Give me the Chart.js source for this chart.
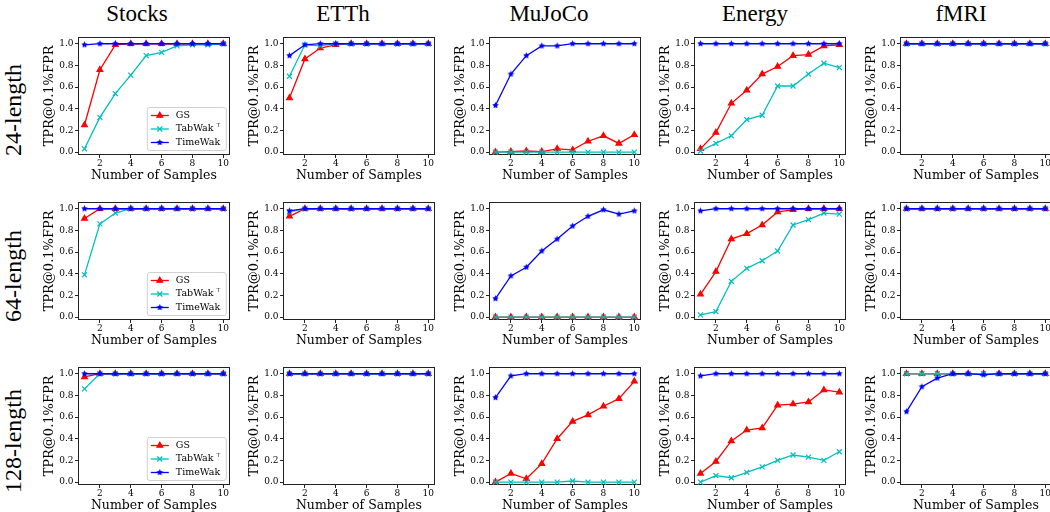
<!DOCTYPE html>
<html>
<head>
<meta charset="utf-8">
<script src="https://cdn.jsdelivr.net/npm/chart.js@4.4.0/dist/chart.umd.min.js"></script>
<style>
  html, body { margin: 0; padding: 0; background: #fff; }
  #fig { position: relative; width: 1050px; height: 512px; overflow: hidden; }
  #fig canvas { position: absolute; }
  .col-title { position: absolute; top: 2px; width: 160px; margin-left: -80px; text-align: center;
               font: 23px/23px "Liberation Serif", serif; color: #000; }
  .row-title { position: absolute; width: 160px; height: 26px; text-align: center; color: #000;
               font: 24px/26px "Liberation Serif", serif; transform: translate(-50%, -50%) rotate(-90deg); }
</style>
</head>
<body>
<div id="fig"></div>
<script>
// ---- data ----
const samples = [1, 2, 3, 4, 5, 6, 7, 8, 9, 10];
const datasetNames = ['Stocks', 'ETTh', 'MuJoCo', 'Energy', 'fMRI'];
const lengthNames = ['24-length', '64-length', '128-length'];
const seriesNames = ['GS', 'TabWak', 'TimeWak'];
const xTicks = [2, 4, 6, 8, 10];
const yTicks = [0.0, 0.2, 0.4, 0.6, 0.8, 1.0];

// 24-length
const gsStocks24 = [0.25, 0.76, 0.99, 1.0, 1.0, 1.0, 1.0, 1.0, 1.0, 1.0];
const tabStocks24 = [0.03, 0.32, 0.54, 0.71, 0.89, 0.92, 0.98, 0.99, 0.99, 1.0];
const timeStocks24 = [0.99, 1.0, 1.0, 1.0, 1.0, 1.0, 1.0, 1.0, 1.0, 1.0];
const gsETTh24 = [0.50, 0.86, 0.96, 0.99, 1.0, 1.0, 1.0, 1.0, 1.0, 1.0];
const tabETTh24 = [0.70, 0.99, 0.98, 1.0, 1.0, 1.0, 1.0, 1.0, 1.0, 1.0];
const timeETTh24 = [0.89, 0.99, 1.0, 1.0, 1.0, 1.0, 1.0, 1.0, 1.0, 1.0];
const gsMuJoCo24 = [0.0, 0.005, 0.01, 0.005, 0.03, 0.02, 0.10, 0.15, 0.08, 0.16];
const tabMuJoCo24 = [0.0, 0.0, 0.0, 0.0, 0.0, 0.0, 0.0, 0.0, 0.0, 0.0];
const timeMuJoCo24 = [0.43, 0.72, 0.89, 0.98, 0.98, 1.0, 1.0, 1.0, 1.0, 1.0];
const gsEnergy24 = [0.03, 0.18, 0.45, 0.57, 0.72, 0.79, 0.89, 0.90, 0.98, 0.99];
const tabEnergy24 = [0.01, 0.08, 0.15, 0.30, 0.34, 0.61, 0.61, 0.72, 0.82, 0.78];
const timeEnergy24 = [1.0, 1.0, 1.0, 1.0, 1.0, 1.0, 1.0, 1.0, 1.0, 1.0];
const gsFMRI24 = [1.0, 1.0, 1.0, 1.0, 1.0, 1.0, 1.0, 1.0, 1.0, 1.0];
const tabFMRI24 = [1.0, 1.0, 1.0, 1.0, 1.0, 1.0, 1.0, 1.0, 1.0, 1.0];
const timeFMRI24 = [1.0, 1.0, 1.0, 1.0, 1.0, 1.0, 1.0, 1.0, 1.0, 1.0];

// 64-length
const gsStocks64 = [0.91, 1.0, 1.0, 1.0, 1.0, 1.0, 1.0, 1.0, 1.0, 1.0];
const tabStocks64 = [0.39, 0.86, 0.96, 1.0, 1.0, 1.0, 1.0, 1.0, 1.0, 1.0];
const timeStocks64 = [1.0, 1.0, 1.0, 1.0, 1.0, 1.0, 1.0, 1.0, 1.0, 1.0];
const gsETTh64 = [0.93, 1.0, 1.0, 1.0, 1.0, 1.0, 1.0, 1.0, 1.0, 1.0];
const tabETTh64 = [0.97, 1.0, 1.0, 1.0, 1.0, 1.0, 1.0, 1.0, 1.0, 1.0];
const timeETTh64 = [0.98, 1.0, 1.0, 1.0, 1.0, 1.0, 1.0, 1.0, 1.0, 1.0];
const gsMuJoCo64 = [0.0, 0.0, 0.0, 0.0, 0.0, 0.0, 0.0, 0.0, 0.0, 0.0];
const tabMuJoCo64 = [0.0, 0.0, 0.0, 0.0, 0.0, 0.0, 0.0, 0.0, 0.0, 0.0];
const timeMuJoCo64 = [0.17, 0.38, 0.46, 0.61, 0.72, 0.84, 0.93, 0.99, 0.95, 0.98];
const gsEnergy64 = [0.21, 0.42, 0.72, 0.77, 0.85, 0.97, 0.99, 1.0, 1.0, 1.0];
const tabEnergy64 = [0.02, 0.05, 0.33, 0.45, 0.52, 0.61, 0.85, 0.90, 0.96, 0.95];
const timeEnergy64 = [0.98, 1.0, 1.0, 1.0, 1.0, 1.0, 1.0, 1.0, 1.0, 1.0];
const gsFMRI64 = [1.0, 1.0, 1.0, 1.0, 1.0, 1.0, 1.0, 1.0, 1.0, 1.0];
const tabFMRI64 = [1.0, 1.0, 1.0, 1.0, 1.0, 1.0, 1.0, 1.0, 1.0, 1.0];
const timeFMRI64 = [1.0, 1.0, 1.0, 1.0, 1.0, 1.0, 1.0, 1.0, 1.0, 1.0];

// 128-length
const gsStocks128 = [0.97, 1.0, 1.0, 1.0, 1.0, 1.0, 1.0, 1.0, 1.0, 1.0];
const tabStocks128 = [0.86, 1.0, 1.0, 1.0, 1.0, 1.0, 1.0, 1.0, 1.0, 1.0];
const timeStocks128 = [1.0, 1.0, 1.0, 1.0, 1.0, 1.0, 1.0, 1.0, 1.0, 1.0];
const gsETTh128 = [1.0, 1.0, 1.0, 1.0, 1.0, 1.0, 1.0, 1.0, 1.0, 1.0];
const tabETTh128 = [1.0, 1.0, 1.0, 1.0, 1.0, 1.0, 1.0, 1.0, 1.0, 1.0];
const timeETTh128 = [1.0, 1.0, 1.0, 1.0, 1.0, 1.0, 1.0, 1.0, 1.0, 1.0];
const gsMuJoCo128 = [0.0, 0.08, 0.03, 0.17, 0.40, 0.56, 0.62, 0.70, 0.77, 0.93];
const tabMuJoCo128 = [0.0, 0.0, 0.0, 0.0, 0.0, 0.01, 0.0, 0.0, 0.0, 0.0];
const timeMuJoCo128 = [0.78, 0.98, 1.0, 1.0, 1.0, 1.0, 1.0, 1.0, 1.0, 1.0];
const gsEnergy128 = [0.08, 0.19, 0.38, 0.48, 0.50, 0.71, 0.72, 0.74, 0.85, 0.83];
const tabEnergy128 = [0.0, 0.06, 0.04, 0.09, 0.14, 0.20, 0.25, 0.23, 0.20, 0.28];
const timeEnergy128 = [0.98, 1.0, 1.0, 1.0, 1.0, 1.0, 1.0, 1.0, 1.0, 1.0];
const gsFMRI128 = [1.0, 1.0, 1.0, 1.0, 1.0, 1.0, 1.0, 1.0, 1.0, 1.0];
const tabFMRI128 = [1.0, 1.0, 1.0, 1.0, 1.0, 1.0, 1.0, 1.0, 1.0, 1.0];
const timeFMRI128 = [0.65, 0.88, 0.96, 1.0, 1.0, 0.99, 1.0, 1.0, 1.0, 1.0];

// rows = lengths, columns = datasets, each cell = [GS, TabWak, TimeWak]
const panels = [
    [[gsStocks24, tabStocks24, timeStocks24], [gsETTh24, tabETTh24, timeETTh24],
     [gsMuJoCo24, tabMuJoCo24, timeMuJoCo24], [gsEnergy24, tabEnergy24, timeEnergy24],
     [gsFMRI24, tabFMRI24, timeFMRI24]],
    [[gsStocks64, tabStocks64, timeStocks64], [gsETTh64, tabETTh64, timeETTh64],
     [gsMuJoCo64, tabMuJoCo64, timeMuJoCo64], [gsEnergy64, tabEnergy64, timeEnergy64],
     [gsFMRI64, tabFMRI64, timeFMRI64]],
    [[gsStocks128, tabStocks128, timeStocks128], [gsETTh128, tabETTh128, timeETTh128],
     [gsMuJoCo128, tabMuJoCo128, timeMuJoCo128], [gsEnergy128, tabEnergy128, timeEnergy128],
     [gsFMRI128, tabFMRI128, timeFMRI128]]
];

// ---- layout ----
const boxLefts = [78, 283, 489, 694, 900];
const boxTops = [34, 199, 364];
const colTitleX = [137, 343, 549, 755, 961];
const rowTitleY = [110, 276, 441];
const BOX_W = 153, BOX_H = 121;
const Y_AXIS_W = 36, X_AXIS_H = 28, PAD = 4;
const AXIS_COLOR = '#222';
const FONT = '"DejaVu Serif", serif';

Chart.defaults.font.family = FONT;
Chart.defaults.color = '#000';

// filled star marker like matplotlib '*'
function makeStar(color, r) {
    const c = document.createElement('canvas');
    const size = Math.ceil(r * 2) + 2;
    c.width = size;
    c.height = size;
    const ctx = c.getContext('2d');
    ctx.translate(size / 2, size / 2);
    ctx.beginPath();
    for (let i = 0; i < 10; i++) {
        const rad = i % 2 === 0 ? r : r * 0.5;
        const a = -Math.PI / 2 + i * Math.PI / 5;
        ctx.lineTo(rad * Math.cos(a), rad * Math.sin(a));
    }
    ctx.closePath();
    ctx.fillStyle = color;
    ctx.fill();
    return c;
}
const starBlue = makeStar('#0000FF', 3.4);

const seriesStyles = [
    { color: '#FF0000', pointStyle: 'triangle', radius: 3.3, order: 3 },
    { color: '#00BFBF', pointStyle: 'crossRot', radius: 3.5, order: 2 },
    { color: '#0000FF', pointStyle: starBlue, radius: 3.4, order: 1 }
];

function drawMarker(ctx, style, x, y) {
    ctx.save();
    ctx.fillStyle = style.color;
    ctx.strokeStyle = style.color;
    ctx.lineWidth = 1.2;
    if (style.pointStyle === 'triangle') {
        const r = style.radius;
        ctx.beginPath();
        ctx.moveTo(x, y - r);
        ctx.lineTo(x + r * 0.866, y + r * 0.5);
        ctx.lineTo(x - r * 0.866, y + r * 0.5);
        ctx.closePath();
        ctx.fill();
        ctx.stroke();
    } else if (style.pointStyle === 'crossRot') {
        const d = style.radius * 0.707;
        ctx.beginPath();
        ctx.moveTo(x - d, y - d); ctx.lineTo(x + d, y + d);
        ctx.moveTo(x + d, y - d); ctx.lineTo(x - d, y + d);
        ctx.stroke();
    } else {
        const img = style.pointStyle;
        ctx.drawImage(img, x - img.width / 2, y - img.height / 2);
    }
    ctx.restore();
}

// full box frame (all four spines)
const frame = {
    id: 'frame',
    beforeDatasetsDraw(chart) {
        const { ctx, chartArea: a } = chart;
        ctx.save();
        ctx.strokeStyle = AXIS_COLOR;
        ctx.lineWidth = 1;
        ctx.strokeRect(Math.round(a.left) + 0.5, Math.round(a.top) + 0.5,
            Math.round(a.right - a.left) - 1, Math.round(a.bottom - a.top) - 1);
        ctx.restore();
    }
};

// legend in the lower right corner of the plot
const insideLegend = {
    id: 'insideLegend',
    afterDatasetsDraw(chart, args, opts) {
        if (!opts.show) return;
        const { ctx, chartArea } = chart;
        const w = 79, h = 43;
        const left = chartArea.right - 4 - w, top = chartArea.bottom - 5 - h;
        ctx.save();
        ctx.beginPath();
        ctx.roundRect(left + 0.5, top + 0.5, w, h, 2.5);
        ctx.fillStyle = 'rgba(255,255,255,0.8)';
        ctx.fill();
        ctx.strokeStyle = '#d0d0d0';
        ctx.lineWidth = 1;
        ctx.stroke();
        seriesNames.forEach((name, i) => {
            const st = seriesStyles[i];
            const y = top + 8.5 + i * 13.5;
            ctx.strokeStyle = st.color;
            ctx.lineWidth = 1.3;
            ctx.beginPath();
            ctx.moveTo(left + 4, y);
            ctx.lineTo(left + 22, y);
            ctx.stroke();
            drawMarker(ctx, st, left + 13, y);
            ctx.fillStyle = '#000';
            ctx.font = '9.5px ' + FONT;
            ctx.textBaseline = 'middle';
            ctx.fillText(name, left + 29, y);
            if (name === 'TabWak') {
                const tw = ctx.measureText(name).width;
                ctx.font = '6px ' + FONT;
                ctx.fillText('\u22A4', left + 29 + tw + 2, y - 4);
            }
        });
        ctx.restore();
    }
};

const fig = document.getElementById('fig');

datasetNames.forEach((name, c) => {
    const t = document.createElement('div');
    t.className = 'col-title';
    t.style.left = colTitleX[c] + 'px';
    t.textContent = name;
    fig.appendChild(t);
});

lengthNames.forEach((len, r) => {
    const t = document.createElement('div');
    t.className = 'row-title';
    t.style.left = '13px';
    t.style.top = rowTitleY[r] + 'px';
    t.textContent = len;
    fig.appendChild(t);

    datasetNames.forEach((name, c) => {
        const canvas = document.createElement('canvas');
        canvas.width = Y_AXIS_W + BOX_W + PAD;
        canvas.height = PAD + BOX_H + X_AXIS_H;
        canvas.style.left = (boxLefts[c] - Y_AXIS_W) + 'px';
        canvas.style.top = (boxTops[r] - PAD) + 'px';
        fig.appendChild(canvas);

        const series = panels[r][c];
        new Chart(canvas, {
            type: 'line',
            data: {
                datasets: series.map((vals, i) => ({
                    label: seriesNames[i],
                    data: samples.map((x, k) => ({ x: x, y: vals[k] })),
                    borderColor: seriesStyles[i].color,
                    backgroundColor: seriesStyles[i].color,
                    borderWidth: 1.3,
                    pointStyle: seriesStyles[i].pointStyle,
                    pointRadius: seriesStyles[i].radius,
                    pointBorderWidth: 1.2,
                    pointBackgroundColor: seriesStyles[i].color,
                    pointBorderColor: seriesStyles[i].color,
                    tension: 0,
                    order: seriesStyles[i].order
                }))
            },
            options: {
                responsive: false,
                animation: false,
                devicePixelRatio: 1,
                layout: { padding: { top: PAD, right: PAD, left: 0, bottom: 0 } },
                plugins: {
                    legend: { display: false },
                    tooltip: { enabled: false },
                    insideLegend: { show: c === 0 }
                },
                scales: {
                    x: {
                        type: 'linear',
                        min: 0.58,
                        max: 10.42,
                        afterBuildTicks: s => { s.ticks = xTicks.map(v => ({ value: v })); },
                        afterFit: s => { s.height = X_AXIS_H; },
                        ticks: { font: { size: 9 }, padding: 0, maxRotation: 0, color: '#000' },
                        grid: { drawOnChartArea: false, drawTicks: true, tickLength: 3, color: AXIS_COLOR },
                        border: { display: false },
                        title: { display: true, text: 'Number of Samples', font: { size: 12.5 }, padding: 0, color: '#000' }
                    },
                    y: {
                        min: -0.027,
                        max: 1.063,
                        afterBuildTicks: s => { s.ticks = yTicks.map(v => ({ value: v })); },
                        afterFit: s => { s.width = Y_AXIS_W; },
                        ticks: { font: { size: 9 }, padding: 1.5, color: '#000', callback: v => v.toFixed(1) },
                        grid: { drawOnChartArea: false, drawTicks: true, tickLength: 3, color: AXIS_COLOR },
                        border: { display: false },
                        title: { display: true, text: 'TPR@0.1%FPR', font: { size: 13 }, padding: 0, color: '#000' }
                    }
                }
            },
            plugins: [frame, insideLegend]
        });
    });
});
</script>
</body>
</html>
